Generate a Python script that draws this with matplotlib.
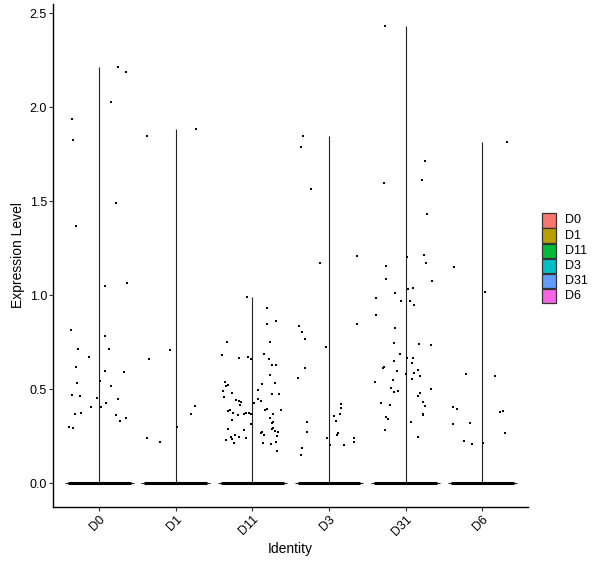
import matplotlib.pyplot as plt
from matplotlib.patches import Rectangle

plt.rcParams["font.family"] = ["Liberation Sans", "DejaVu Sans"]

identities = ["D0", "D1", "D11", "D3", "D31", "D6"]
colors = ["#F8766D", "#B79F00", "#00BA38", "#00BFC4", "#619CFF", "#F564E3"]

# non-zero expression values per identity and the horizontal jitter
d0_expr = [2.216, 2.188, 2.028, 1.939, 1.826, 1.493, 1.370, 1.049, 1.067, 0.817,
           0.784, 0.716, 0.716, 0.673, 0.620, 0.599, 0.592, 0.544, 0.534, 0.519,
           0.471, 0.464, 0.454, 0.448, 0.429, 0.407, 0.407, 0.370, 0.376, 0.365,
           0.347, 0.333, 0.301, 0.294]
d0_jitter = [0.244, 0.345, 0.149, -0.356, -0.347, 0.214, -0.308, 0.070, 0.358, -0.369,
             0.070, -0.282, 0.123, -0.138, -0.308, 0.070, 0.319, 0.009, -0.295, 0.149,
             -0.356, -0.256, -0.034, 0.240, 0.084, -0.108, 0.018, -0.321, -0.243, 0.214,
             0.345, 0.266, -0.399, -0.347]

d1_expr = [1.886, 1.849, 0.709, 0.663, 0.413, 0.370, 0.301, 0.243, 0.221]
d1_jitter = [0.257, -0.383, -0.073, -0.356, 0.244, 0.192, 0.009, -0.383, -0.204]

d11_expr = [0.993, 0.934, 0.865, 0.849, 0.753, 0.753, 0.684, 0.689, 0.668, 0.673,
            0.663, 0.663, 0.631, 0.631, 0.578, 0.540, 0.523, 0.518, 0.530, 0.534,
            0.493, 0.498, 0.482, 0.477, 0.477, 0.461, 0.450, 0.439, 0.445, 0.439,
            0.434, 0.418, 0.429, 0.386, 0.391, 0.391, 0.397, 0.391, 0.376, 0.365,
            0.370, 0.376, 0.376, 0.370, 0.370, 0.349, 0.328, 0.322, 0.338, 0.317,
            0.296, 0.290, 0.290, 0.285, 0.274, 0.269, 0.280, 0.274, 0.259, 0.253,
            0.259, 0.248, 0.248, 0.237, 0.243, 0.232, 0.216, 0.216, 0.211, 0.221,
            0.173]
d11_jitter = [-0.069, 0.192, 0.305, 0.192, -0.330, 0.231, -0.396, 0.149, -0.174, -0.056,
              -0.017, 0.214, 0.258, 0.305, 0.231, -0.357, -0.321, -0.343, 0.127, 0.292,
              -0.383, 0.075, -0.265, 0.258, 0.349, -0.370, 0.075, 0.114, -0.213, -0.174,
              -0.148, -0.161, 0.022, -0.317, -0.291, 0.165, 0.192, 0.375, -0.252, -0.187,
              -0.108, -0.082, -0.043, -0.017, 0.271, 0.231, 0.266, 0.253, -0.265, -0.017,
              0.266, 0.253, -0.317, -0.108, 0.127, 0.114, 0.297, 0.332, 0.153, 0.318,
              -0.226, -0.174, -0.278, -0.265, -0.082, -0.343, -0.239, 0.140, 0.245, 0.305,
              0.318]

d3_expr = [1.849, 1.790, 1.567, 1.211, 1.173, 0.838, 0.849, 0.806, 0.769, 0.727,
           0.615, 0.562, 0.423, 0.402, 0.360, 0.370, 0.333, 0.328, 0.274, 0.269,
           0.259, 0.243, 0.243, 0.221, 0.205, 0.205, 0.189, 0.152]
d3_jitter = [-0.339, -0.362, -0.235, 0.366, -0.117, -0.392, 0.366, -0.352, -0.313, -0.039,
             -0.313, -0.401, 0.157, 0.157, 0.065, 0.144, 0.091, -0.287, -0.287, 0.117,
             0.104, -0.026, 0.326, 0.326, 0.013, 0.196, -0.352, -0.366]

d31_expr = [2.434, 1.716, 1.615, 1.599, 1.434, 1.205, 1.216, 1.173, 1.157, 1.088,
            1.078, 1.035, 1.040, 1.014, 0.987, 0.971, 0.971, 0.950, 0.897, 0.828,
            0.748, 0.743, 0.737, 0.689, 0.668, 0.668, 0.652, 0.641, 0.620, 0.615,
            0.604, 0.599, 0.588, 0.583, 0.572, 0.551, 0.556, 0.540, 0.509, 0.503,
            0.487, 0.493, 0.482, 0.466, 0.429, 0.418, 0.434, 0.413, 0.370, 0.365,
            0.354, 0.344, 0.328, 0.285, 0.248]
d31_jitter = [-0.265, 0.257, 0.218, -0.282, 0.284, 0.018, 0.244, 0.266, -0.256, -0.256,
              0.345, 0.035, 0.096, -0.138, -0.383, -0.060, 0.057, 0.109, -0.383, -0.138,
              -0.151, 0.175, 0.332, -0.073, 0.018, 0.096, -0.151, 0.083, -0.282, -0.295,
              0.162, -0.112, 0.109, 0.005, 0.188, -0.164, 0.083, -0.399, -0.190, 0.332,
              -0.151, -0.099, 0.188, 0.162, -0.321, -0.204, 0.227, 0.253, 0.227, 0.231,
              -0.256, -0.230, 0.070, -0.269, 0.162]

d6_expr = [1.817, 1.152, 1.019, 0.583, 0.572, 0.404, 0.397, 0.386, 0.381, 0.317,
           0.322, 0.269, 0.227, 0.211, 0.216]
d6_jitter = [0.331, -0.369, 0.044, -0.217, 0.162, -0.383, -0.334, 0.279, 0.240, -0.383,
             -0.164, 0.305, -0.243, -0.138, 0.005]

expr = [d0_expr, d1_expr, d11_expr, d3_expr, d31_expr, d6_expr]
jitter = [d0_jitter, d1_jitter, d11_jitter, d3_jitter, d31_jitter, d6_jitter]

fig = plt.figure(figsize=(6, 5.68), dpi=100)
ax = fig.add_axes([0.0889, 0.1079, 0.7912, 0.8859])

for i, (vals, jit) in enumerate(zip(expr, jitter)):
    pos = i + 1
    # violin: almost all cells are zero, so it collapses to a flat base and a spike
    ax.hlines(0, pos - 0.45, pos + 0.45, color="#222222", lw=0.8, zorder=2)
    ax.vlines(pos, 0, max(vals), color="#222222", lw=0.8, zorder=2)
    # the jittered zero cells pile up into a thick band
    ax.hlines(0, pos - 0.41, pos + 0.41, color="black", lw=2.2, zorder=3)
    ax.scatter([pos + j for j in jit], vals, s=2.8, marker="s", color="black",
               linewidths=0, zorder=4)

ax.set_xlim(0.4, 6.6)
ax.set_ylim(-0.1245, 2.552)
ax.set_xticks(range(1, len(identities) + 1))
ax.set_xticklabels(identities, rotation=45, ha="right", rotation_mode="anchor")
ax.set_yticks([0, 0.5, 1.0, 1.5, 2.0, 2.5])
ax.set_yticklabels(["0.0", "0.5", "1.0", "1.5", "2.0", "2.5"])

for side in ["top", "right"]:
    ax.spines[side].set_visible(False)
for side in ["left", "bottom"]:
    ax.spines[side].set_linewidth(1.0)
    ax.spines[side].set_color("black")
ax.tick_params(length=2.6, width=0.8, color="#333333", labelsize=9,
               labelcolor="black", pad=2)

ax.set_xlabel("Identity", fontsize=10, labelpad=3)
ax.set_ylabel("Expression Level", fontsize=10, labelpad=3)

# legend
key_w = 14 / 600
key_h = 14.3 / 568
step = 15.1 / 568
top = 1 - 213.3 / 568
for k, (name, col) in enumerate(zip(identities, colors)):
    y0 = top - k * step - key_h
    fig.patches.append(Rectangle((542 / 600, y0), key_w, key_h, facecolor=col,
                                 edgecolor="#333333", lw=0.9,
                                 transform=fig.transFigure, figure=fig))
    fig.text(564.5 / 600, y0 + key_h / 2, name, fontsize=9, va="center", ha="left")

fig.savefig("out.png", dpi=100)
